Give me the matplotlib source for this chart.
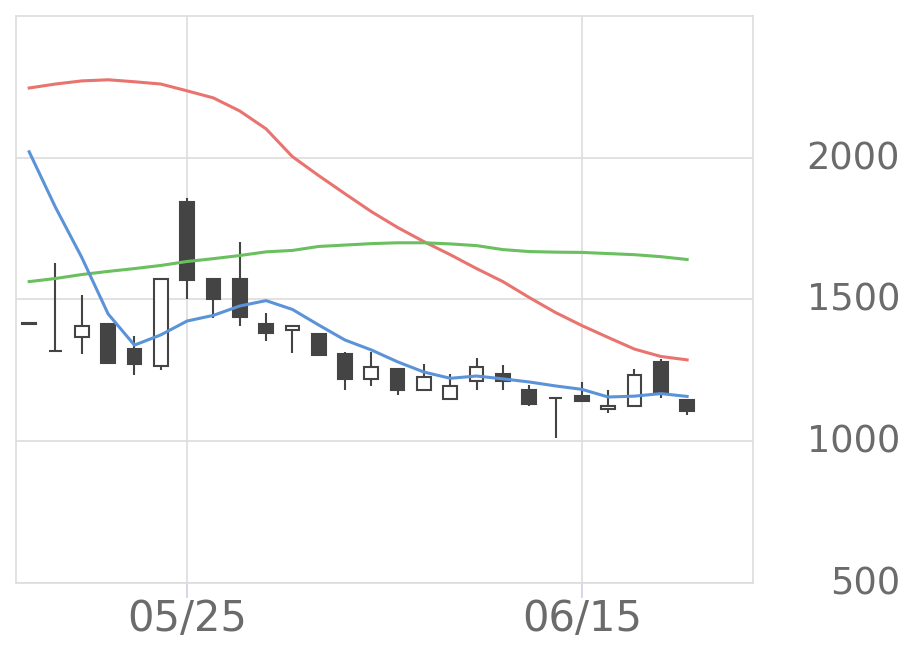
import matplotlib
matplotlib.use("Agg")
import matplotlib.pyplot as plt
import matplotlib.transforms as mtransforms
import numpy as np

# 日足データ
opens  = [1413, 1317, 1366, 1415, 1326, 1267, 1845, 1573, 1573, 1414, 1391, 1379, 1309, 1218,
          1256, 1182, 1148, 1212, 1238, 1180, 1153, 1161, 1113, 1124, 1279, 1144]
closes = [1413, 1317, 1408, 1276, 1271, 1573, 1570, 1501, 1437, 1383, 1408, 1305, 1218, 1262,
          1182, 1227, 1196, 1262, 1211, 1130, 1151, 1141, 1124, 1232, 1172, 1106]
highs  = [1415, 1628, 1517, 1418, 1370, 1573, 1858, 1573, 1704, 1452, 1408, 1382, 1315, 1315,
          1256, 1273, 1238, 1293, 1270, 1197, 1155, 1209, 1180, 1256, 1291, 1144]
lows   = [1411, 1315, 1306, 1276, 1235, 1252, 1500, 1436, 1406, 1353, 1312, 1300, 1182, 1195,
          1164, 1176, 1148, 1182, 1182, 1123, 1012, 1138, 1101, 1124, 1153, 1094]

ma_short = [2021, 1825, 1648, 1449, 1339, 1375, 1424, 1444, 1477, 1496, 1465, 1410, 1357, 1322,
            1280, 1244, 1222, 1230, 1220, 1209, 1195, 1183, 1156, 1159, 1168, 1158]
ma_mid   = [2246, 2260, 2271, 2275, 2268, 2260, 2236, 2211, 2165, 2102, 2004, 1937, 1873, 1810,
            1754, 1704, 1658, 1609, 1563, 1507, 1454, 1408, 1366, 1325, 1299, 1287]
ma_long  = [1563, 1574, 1588, 1599, 1609, 1620, 1634, 1644, 1655, 1668, 1673, 1687, 1692, 1697,
            1700, 1700, 1696, 1690, 1676, 1669, 1667, 1666, 1662, 1658, 1651, 1641]

xtick_pos = [6, 21]
xtick_labels = ["05/25", "06/15"]
yticks = [500, 1000, 1500, 2000]

fig = plt.figure(figsize=(9.2, 6.69), dpi=100)
ax = fig.add_axes([0.0174, 0.1286, 0.801, 0.8475])

x = np.arange(len(opens))
o = np.array(opens); c = np.array(closes)
up = c >= o
bottom = np.minimum(o, c)
height = np.maximum(np.abs(c - o), 3)

ax.vlines(x, lows, highs, color="#444444", lw=1.5, zorder=2)
ax.bar(x[up], height[up], bottom=bottom[up], width=0.52,
       facecolor="white", edgecolor="#444444", lw=1.5, zorder=2)
ax.bar(x[~up], height[~up], bottom=bottom[~up], width=0.52,
       facecolor="#444444", edgecolor="#444444", lw=1.5, zorder=2)

ax.plot(x, ma_mid, color="#e8736f", lw=2.2, zorder=3)
ax.plot(x, ma_long, color="#6abf5e", lw=2.2, zorder=3)
ax.plot(x, ma_short, color="#5b93d9", lw=2.2, zorder=3)

ax.set_xlim(-0.5, 27.5)
ax.set_ylim(500, 2500)
ax.set_xticks(xtick_pos)
ax.set_xticklabels(xtick_labels)
ax.set_yticks(yticks)
ax.yaxis.tick_right()
ax.tick_params(axis="y", length=0, pad=106, labelsize=26.5, labelcolor="#6b6b6b")
ax.tick_params(axis="x", length=11, width=1.2, color="#c9d3e6", labelsize=30,
               labelcolor="#6b6b6b", pad=0)
shift = mtransforms.ScaledTranslation(0, 3 / 100, fig.dpi_scale_trans)
for lab in ax.get_yticklabels():
    lab.set_horizontalalignment("right")
    lab.set_transform(lab.get_transform() + shift)

ax.grid(True, color="#dddddd", lw=1.2)
ax.set_axisbelow(True)
for s in ax.spines.values():
    s.set_color("#dddddd")
    s.set_linewidth(1.2)

fig.savefig("out.png", dpi=100)
